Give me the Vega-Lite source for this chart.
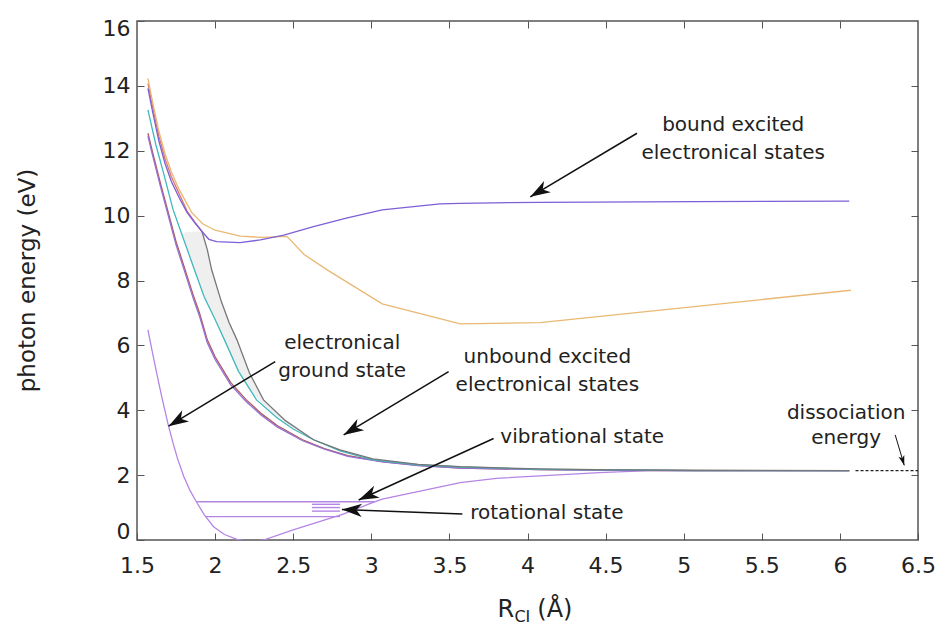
{
  "$schema": "https://vega.github.io/schema/vega-lite/v6.json",
  "width": 781,
  "height": 519,
  "autosize": {"type": "none"},
  "padding": {"left": 137, "top": 21, "right": 19, "bottom": 95},
  "background": "white",
  "config": {
    "view": {"stroke": "#555", "strokeWidth": 1.5},
    "axis": {
      "domain": false, "grid": false, "tickSize": 7, "offset": -7, "tickColor": "#555", "tickWidth": 1,
      "labelFont": "DejaVu Sans", "labelFontSize": 22, "labelColor": "#222"
    },
    "text": {"font": "DejaVu Sans", "color": "#222"}
  },
  "datasets": {
    "curves": [
      {"state": "ground", "r": 1.57, "e": 6.48}, {"state": "ground", "r": 1.60, "e": 5.75}, {"state": "ground", "r": 1.63, "e": 5.05},
      {"state": "ground", "r": 1.66, "e": 4.38}, {"state": "ground", "r": 1.70, "e": 3.55}, {"state": "ground", "r": 1.73, "e": 3.0},
      {"state": "ground", "r": 1.76, "e": 2.5}, {"state": "ground", "r": 1.80, "e": 1.95}, {"state": "ground", "r": 1.84, "e": 1.52},
      {"state": "ground", "r": 1.88, "e": 1.18}, {"state": "ground", "r": 1.93, "e": 0.78}, {"state": "ground", "r": 1.99, "e": 0.41},
      {"state": "ground", "r": 2.06, "e": 0.17}, {"state": "ground", "r": 2.14, "e": 0.02}, {"state": "ground", "r": 2.22, "e": -0.05},
      {"state": "ground", "r": 2.31, "e": 0.0}, {"state": "ground", "r": 2.50, "e": 0.31}, {"state": "ground", "r": 2.82, "e": 0.80},
      {"state": "ground", "r": 3.00, "e": 1.14}, {"state": "ground", "r": 3.07, "e": 1.26}, {"state": "ground", "r": 3.57, "e": 1.77},
      {"state": "ground", "r": 3.80, "e": 1.9}, {"state": "ground", "r": 4.08, "e": 1.98}, {"state": "ground", "r": 4.46, "e": 2.08},
      {"state": "ground", "r": 4.78, "e": 2.14}, {"state": "ground", "r": 6.06, "e": 2.14},

      {"state": "unbound B", "r": 1.57, "e": 12.54}, {"state": "unbound B", "r": 1.60, "e": 11.95}, {"state": "unbound B", "r": 1.65, "e": 11.0},
      {"state": "unbound B", "r": 1.70, "e": 10.1}, {"state": "unbound B", "r": 1.75, "e": 9.2}, {"state": "unbound B", "r": 1.80, "e": 8.45},
      {"state": "unbound B", "r": 1.86, "e": 7.55}, {"state": "unbound B", "r": 1.90, "e": 7.0}, {"state": "unbound B", "r": 1.95, "e": 6.17},
      {"state": "unbound B", "r": 2.00, "e": 5.65}, {"state": "unbound B", "r": 2.10, "e": 4.85}, {"state": "unbound B", "r": 2.20, "e": 4.32},
      {"state": "unbound B", "r": 2.30, "e": 3.88}, {"state": "unbound B", "r": 2.40, "e": 3.52}, {"state": "unbound B", "r": 2.56, "e": 3.09},
      {"state": "unbound B", "r": 2.70, "e": 2.82}, {"state": "unbound B", "r": 2.85, "e": 2.6}, {"state": "unbound B", "r": 3.07, "e": 2.42},
      {"state": "unbound B", "r": 3.30, "e": 2.3}, {"state": "unbound B", "r": 3.57, "e": 2.22}, {"state": "unbound B", "r": 4.08, "e": 2.17},
      {"state": "unbound B", "r": 4.57, "e": 2.15}, {"state": "unbound B", "r": 5.07, "e": 2.14}, {"state": "unbound B", "r": 6.06, "e": 2.14},

      {"state": "unbound C", "r": 1.57, "e": 12.45}, {"state": "unbound C", "r": 1.60, "e": 11.85}, {"state": "unbound C", "r": 1.65, "e": 10.9},
      {"state": "unbound C", "r": 1.70, "e": 10.0}, {"state": "unbound C", "r": 1.75, "e": 9.1}, {"state": "unbound C", "r": 1.80, "e": 8.35},
      {"state": "unbound C", "r": 1.86, "e": 7.45}, {"state": "unbound C", "r": 1.90, "e": 6.9}, {"state": "unbound C", "r": 1.95, "e": 6.08},
      {"state": "unbound C", "r": 2.00, "e": 5.57}, {"state": "unbound C", "r": 2.10, "e": 4.78}, {"state": "unbound C", "r": 2.20, "e": 4.26},
      {"state": "unbound C", "r": 2.30, "e": 3.83}, {"state": "unbound C", "r": 2.40, "e": 3.48}, {"state": "unbound C", "r": 2.56, "e": 3.06},
      {"state": "unbound C", "r": 2.70, "e": 2.80}, {"state": "unbound C", "r": 2.85, "e": 2.58}, {"state": "unbound C", "r": 3.07, "e": 2.41},
      {"state": "unbound C", "r": 3.30, "e": 2.29}, {"state": "unbound C", "r": 3.57, "e": 2.22}, {"state": "unbound C", "r": 4.08, "e": 2.17},
      {"state": "unbound C", "r": 4.57, "e": 2.15}, {"state": "unbound C", "r": 5.07, "e": 2.14}, {"state": "unbound C", "r": 6.06, "e": 2.14},

      {"state": "unbound A", "r": 1.57, "e": 13.26}, {"state": "unbound A", "r": 1.62, "e": 12.2}, {"state": "unbound A", "r": 1.67, "e": 11.31},
      {"state": "unbound A", "r": 1.73, "e": 10.2}, {"state": "unbound A", "r": 1.80, "e": 9.25}, {"state": "unbound A", "r": 1.87, "e": 8.3},
      {"state": "unbound A", "r": 1.93, "e": 7.5}, {"state": "unbound A", "r": 2.00, "e": 6.8}, {"state": "unbound A", "r": 2.06, "e": 6.17},
      {"state": "unbound A", "r": 2.15, "e": 5.2}, {"state": "unbound A", "r": 2.265, "e": 4.32}, {"state": "unbound A", "r": 2.40, "e": 3.75},
      {"state": "unbound A", "r": 2.50, "e": 3.42}, {"state": "unbound A", "r": 2.63, "e": 3.09}, {"state": "unbound A", "r": 2.80, "e": 2.75},
      {"state": "unbound A", "r": 3.01, "e": 2.47}, {"state": "unbound A", "r": 3.30, "e": 2.32}, {"state": "unbound A", "r": 3.57, "e": 2.25},
      {"state": "unbound A", "r": 4.08, "e": 2.18}, {"state": "unbound A", "r": 4.57, "e": 2.16}, {"state": "unbound A", "r": 5.07, "e": 2.14},
      {"state": "unbound A", "r": 6.06, "e": 2.14},

      {"state": "crossing", "r": 1.916, "e": 9.51}, {"state": "crossing", "r": 1.95, "e": 8.95}, {"state": "crossing", "r": 1.978, "e": 8.33},
      {"state": "crossing", "r": 2.04, "e": 7.35}, {"state": "crossing", "r": 2.09, "e": 6.7}, {"state": "crossing", "r": 2.14, "e": 6.17},
      {"state": "crossing", "r": 2.22, "e": 5.15}, {"state": "crossing", "r": 2.31, "e": 4.32}, {"state": "crossing", "r": 2.45, "e": 3.68},
      {"state": "crossing", "r": 2.63, "e": 3.09}, {"state": "crossing", "r": 2.80, "e": 2.78}, {"state": "crossing", "r": 3.01, "e": 2.5},
      {"state": "crossing", "r": 3.30, "e": 2.33}, {"state": "crossing", "r": 3.57, "e": 2.26}, {"state": "crossing", "r": 4.08, "e": 2.19},
      {"state": "crossing", "r": 4.57, "e": 2.16}, {"state": "crossing", "r": 5.07, "e": 2.15}, {"state": "crossing", "r": 6.06, "e": 2.14},

      {"state": "upper", "r": 1.57, "e": 14.08}, {"state": "upper", "r": 1.60, "e": 13.35}, {"state": "upper", "r": 1.64, "e": 12.45},
      {"state": "upper", "r": 1.68, "e": 11.75}, {"state": "upper", "r": 1.72, "e": 11.2}, {"state": "upper", "r": 1.77, "e": 10.67},
      {"state": "upper", "r": 1.82, "e": 10.15}, {"state": "upper", "r": 1.87, "e": 9.8}, {"state": "upper", "r": 1.916, "e": 9.51},

      {"state": "bound B", "r": 1.57, "e": 14.23}, {"state": "bound B", "r": 1.60, "e": 13.5}, {"state": "bound B", "r": 1.64, "e": 12.6},
      {"state": "bound B", "r": 1.68, "e": 11.9}, {"state": "bound B", "r": 1.72, "e": 11.35}, {"state": "bound B", "r": 1.77, "e": 10.8},
      {"state": "bound B", "r": 1.85, "e": 10.1}, {"state": "bound B", "r": 1.92, "e": 9.75}, {"state": "bound B", "r": 2.00, "e": 9.55},
      {"state": "bound B", "r": 2.16, "e": 9.37}, {"state": "bound B", "r": 2.30, "e": 9.33}, {"state": "bound B", "r": 2.46, "e": 9.36},
      {"state": "bound B", "r": 2.57, "e": 8.8}, {"state": "bound B", "r": 2.72, "e": 8.32}, {"state": "bound B", "r": 3.07, "e": 7.28},
      {"state": "bound B", "r": 3.57, "e": 6.66}, {"state": "bound B", "r": 4.08, "e": 6.70}, {"state": "bound B", "r": 6.07, "e": 7.70},

      {"state": "bound A", "r": 1.57, "e": 13.92}, {"state": "bound A", "r": 1.60, "e": 13.2}, {"state": "bound A", "r": 1.64, "e": 12.3},
      {"state": "bound A", "r": 1.68, "e": 11.6}, {"state": "bound A", "r": 1.72, "e": 11.05}, {"state": "bound A", "r": 1.77, "e": 10.55},
      {"state": "bound A", "r": 1.82, "e": 10.1}, {"state": "bound A", "r": 1.87, "e": 9.78}, {"state": "bound A", "r": 1.916, "e": 9.51},
      {"state": "bound A", "r": 1.96, "e": 9.27}, {"state": "bound A", "r": 2.01, "e": 9.2}, {"state": "bound A", "r": 2.16, "e": 9.17},
      {"state": "bound A", "r": 2.29, "e": 9.25}, {"state": "bound A", "r": 2.44, "e": 9.4}, {"state": "bound A", "r": 2.63, "e": 9.66},
      {"state": "bound A", "r": 2.84, "e": 9.92}, {"state": "bound A", "r": 3.07, "e": 10.18}, {"state": "bound A", "r": 3.44, "e": 10.36},
      {"state": "bound A", "r": 3.57, "e": 10.38}, {"state": "bound A", "r": 4.08, "e": 10.41}, {"state": "bound A", "r": 5.07, "e": 10.43},
      {"state": "bound A", "r": 6.06, "e": 10.45}
    ],
    "band": [
      {"r": 1.79, "lo": 9.45, "hi": 9.47}, {"r": 1.85, "lo": 8.57, "hi": 9.5}, {"r": 1.916, "lo": 7.65, "hi": 9.51},
      {"r": 1.978, "lo": 7.02, "hi": 8.33}, {"r": 2.04, "lo": 6.38, "hi": 7.35}, {"r": 2.14, "lo": 5.31, "hi": 6.17},
      {"r": 2.22, "lo": 4.66, "hi": 5.15}, {"r": 2.31, "lo": 4.13, "hi": 4.32}, {"r": 2.45, "lo": 3.6, "hi": 3.68},
      {"r": 2.63, "lo": 3.09, "hi": 3.09}
    ],
    "levels": [
      {"level": "v1", "r": 1.88, "r2": 3.02, "e": 1.18},
      {"level": "v0", "r": 1.94, "r2": 2.80, "e": 0.72},
      {"level": "J3", "r": 2.62, "r2": 2.80, "e": 1.10},
      {"level": "J2", "r": 2.62, "r2": 2.80, "e": 1.00},
      {"level": "J1", "r": 2.62, "r2": 2.80, "e": 0.89}
    ],
    "arrows": [
      {"target": "bound", "fr": 4.701, "fe": 12.54, "tr": 4.018, "te": 10.58},
      {"target": "ground", "fr": 2.385, "fe": 5.50, "tr": 1.702, "te": 3.51},
      {"target": "unbound", "fr": 3.495, "fe": 5.19, "tr": 2.823, "te": 3.24},
      {"target": "vibrational", "fr": 3.783, "fe": 3.13, "tr": 2.919, "te": 1.233},
      {"target": "rotational", "fr": 3.583, "fe": 0.80, "tr": 2.812, "te": 0.939}
    ],
    "dissociationArrow": [
      {"target": "dissociation", "fr": 6.354, "fe": 3.24, "tr": 6.412, "te": 2.30}
    ],
    "captions": [
      {"text": "bound excited\nelectronical states", "r": 5.317, "e": 12.79},
      {"text": "electronical\nground state", "r": 2.814, "e": 6.06},
      {"text": "unbound excited\nelectronical states", "r": 4.127, "e": 5.65}
    ],
    "sideCaptions": [
      {"text": "vibrational state", "r": 3.826, "e": 3.166},
      {"text": "rotational state", "r": 3.633, "e": 0.823}
    ],
    "dissociationCaption": [
      {"text": "dissociation\nenergy", "r": 6.04, "e": 3.906}
    ],
    "dissociation": [
      {"r": 6.10, "r2": 6.5, "e": 2.14}
    ]
  },
  "layer": [
    {
      "layer": [
        {
          "data": {"name": "band"},
          "mark": {"type": "area", "color": "#efefef", "opacity": 1},
          "encoding": {
            "x": {"field": "r", "type": "quantitative", "title": null,
              "scale": {"domain": [1.5, 6.5], "nice": false, "zero": false},
              "axis": {"orient": "bottom", "values": [1.5, 2, 2.5, 3, 3.5, 4, 4.5, 5, 5.5, 6, 6.5], "format": "~g",
                "labelPadding": 15, "labelFlush": false,
                "encode": {"labels": {"update": {"dx": {"signal": "datum.value === 1.5 ? 8 : 0"}}}}}},
            "y": {"field": "lo", "type": "quantitative", "title": null,
              "scale": {"domain": [0, 16], "nice": false, "zero": false},
              "axis": {"orient": "left", "values": [0, 2, 4, 6, 8, 10, 12, 14, 16], "format": "d", "labelPadding": 7, "labelFlush": true, "labelFlushOffset": 3}},
            "y2": {"field": "hi"}
          }
        },
        {
          "data": {"name": "curves"},
          "mark": {"type": "line", "strokeWidth": 1.3, "clip": true},
          "encoding": {
            "x": {"field": "r", "type": "quantitative", "title": null},
            "y": {"field": "e", "type": "quantitative", "title": null},
            "color": {"field": "state", "type": "nominal", "legend": null,
              "scale": {
                "domain": ["ground", "unbound B", "unbound C", "unbound A", "crossing", "upper", "bound B", "bound A"],
                "range": ["#b585e5", "#b0585f", "#9470d0", "#3fb8bd", "#777777", "#d9776f", "#e9b873", "#7d5fd6"]
              }},
            "strokeWidth": {"condition": {"test": "datum.state === 'unbound A'", "value": 2}, "value": 1.3}
          }
        },
        {
          "data": {"name": "levels"},
          "mark": {"type": "rule", "color": "#b585e5", "strokeWidth": 1.4},
          "encoding": {
            "x": {"field": "r", "type": "quantitative", "title": null},
            "x2": {"field": "r2"},
            "y": {"field": "e", "type": "quantitative", "title": null}
          }
        },
        {
          "data": {"name": "arrows"},
          "mark": {"type": "rule", "color": "#111", "strokeWidth": 1.5},
          "encoding": {
            "x": {"field": "fr", "type": "quantitative", "title": null},
            "y": {"field": "fe", "type": "quantitative", "title": null},
            "x2": {"field": "tr"},
            "y2": {"field": "te"}
          }
        },
        {
          "data": {"name": "arrows"},
          "transform": [{"calculate": "atan2((datum.tr - datum.fr) * 156.2, (datum.te - datum.fe) * 32.44) * 180 / PI", "as": "heading"}],
          "mark": {"type": "point", "shape": "M0,0L-0.33,1L0,0.72L0.33,1Z", "filled": true, "color": "#111", "opacity": 1, "size": 1600},
          "encoding": {
            "x": {"field": "tr", "type": "quantitative", "title": null},
            "y": {"field": "te", "type": "quantitative", "title": null},
            "angle": {"field": "heading", "type": "quantitative", "scale": null}
          }
        },
        {
          "data": {"name": "dissociationArrow"},
          "mark": {"type": "rule", "color": "#111", "strokeWidth": 1},
          "encoding": {
            "x": {"field": "fr", "type": "quantitative", "title": null},
            "y": {"field": "fe", "type": "quantitative", "title": null},
            "x2": {"field": "tr"},
            "y2": {"field": "te"}
          }
        },
        {
          "data": {"name": "dissociationArrow"},
          "transform": [{"calculate": "atan2((datum.tr - datum.fr) * 156.2, (datum.te - datum.fe) * 32.44) * 180 / PI", "as": "heading"}],
          "mark": {"type": "point", "shape": "M0,0L-0.3,1L0,0.75L0.3,1Z", "filled": true, "color": "#111", "opacity": 1, "size": 400},
          "encoding": {
            "x": {"field": "tr", "type": "quantitative", "title": null},
            "y": {"field": "te", "type": "quantitative", "title": null},
            "angle": {"field": "heading", "type": "quantitative", "scale": null}
          }
        },
        {
          "data": {"name": "captions"},
          "mark": {"type": "text", "fontSize": 20, "align": "center", "baseline": "middle", "lineBreak": "\n", "lineHeight": 28},
          "encoding": {
            "x": {"field": "r", "type": "quantitative", "title": null},
            "y": {"field": "e", "type": "quantitative", "title": null},
            "text": {"field": "text"}
          }
        },
        {
          "data": {"name": "sideCaptions"},
          "mark": {"type": "text", "fontSize": 20, "align": "left", "baseline": "middle"},
          "encoding": {
            "x": {"field": "r", "type": "quantitative", "title": null},
            "y": {"field": "e", "type": "quantitative", "title": null},
            "text": {"field": "text"}
          }
        },
        {
          "data": {"name": "dissociationCaption"},
          "mark": {"type": "text", "fontSize": 20, "align": "center", "baseline": "middle", "lineBreak": "\n", "lineHeight": 25},
          "encoding": {
            "x": {"field": "r", "type": "quantitative", "title": null},
            "y": {"field": "e", "type": "quantitative", "title": null},
            "text": {"field": "text"}
          }
        },
        {
          "data": {"values": [{}]},
          "mark": {"type": "text", "fontSize": 23, "angle": 270, "align": "center", "baseline": "middle"},
          "encoding": {
            "x": {"datum": 0.80, "type": "quantitative"},
            "y": {"datum": 8.0, "type": "quantitative"},
            "text": {"value": "photon energy (eV)"}
          }
        },
        {
          "data": {"values": [{}]},
          "mark": {"type": "text", "fontSize": 24, "align": "right", "baseline": "alphabetic", "dx": -16},
          "encoding": {
            "x": {"datum": 4.018, "type": "quantitative"},
            "y": {"datum": -2.37, "type": "quantitative"},
            "text": {"value": "R"}
          }
        },
        {
          "data": {"values": [{}]},
          "mark": {"type": "text", "fontSize": 16, "align": "right", "baseline": "alphabetic", "dy": 5},
          "encoding": {
            "x": {"datum": 4.018, "type": "quantitative"},
            "y": {"datum": -2.37, "type": "quantitative"},
            "text": {"value": "CI"}
          }
        },
        {
          "data": {"values": [{}]},
          "mark": {"type": "text", "fontSize": 24, "align": "left", "baseline": "alphabetic", "dx": 7},
          "encoding": {
            "x": {"datum": 4.018, "type": "quantitative"},
            "y": {"datum": -2.37, "type": "quantitative"},
            "text": {"value": "(Å)"}
          }
        }
      ]
    },
    {
      "data": {"name": "dissociation"},
      "mark": {"type": "rule", "color": "#222", "strokeWidth": 1.2, "strokeDash": [3, 2]},
      "encoding": {
        "x": {"field": "r", "type": "quantitative", "title": null,
          "scale": {"domain": [1.5, 6.5], "nice": false, "zero": false},
          "axis": {"orient": "top", "values": [2, 2.5, 3, 3.5, 4, 4.5, 5, 5.5, 6], "labels": false}},
        "x2": {"field": "r2"},
        "y": {"field": "e", "type": "quantitative", "title": null,
          "scale": {"domain": [0, 16], "nice": false, "zero": false},
          "axis": {"orient": "right", "values": [2, 4, 6, 8, 10, 12, 14], "labels": false}}
      }
    }
  ],
  "resolve": {
    "scale": {"x": "independent", "y": "independent"},
    "axis": {"x": "independent", "y": "independent"}
  }
}
